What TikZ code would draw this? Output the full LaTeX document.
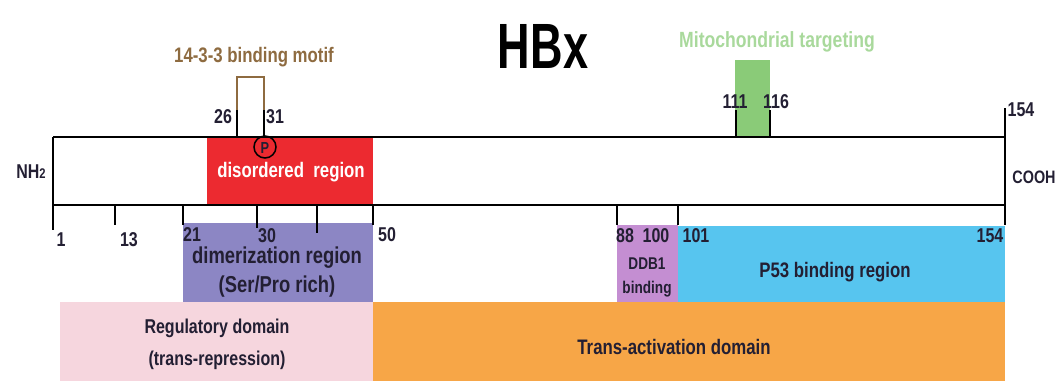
\documentclass[tikz,border=0pt]{standalone}
\usepackage{fontspec}
\setmainfont{Liberation Sans}[FakeStretch=0.8]
\usetikzlibrary{positioning}
\definecolor{discolor}{HTML}{EC2A30}
\definecolor{dimcolor}{HTML}{8C86C4}
\definecolor{regcolor}{HTML}{F6D6DE}
\definecolor{transcolor}{HTML}{F7A647}
\definecolor{ddbcolor}{HTML}{C48ED2}
\definecolor{p53color}{HTML}{57C5EF}
\definecolor{mitocolor}{HTML}{8ACB78}
\definecolor{mitotext}{HTML}{A9D99C}
\definecolor{motifcolor}{HTML}{8E6B40}
\definecolor{txtcolor}{HTML}{231F33}

\begin{document}
\begin{tikzpicture}[x=1pt,y=-1pt,
	lbl/.style={font=\bfseries\fontsize{20}{22}\selectfont, text=txtcolor, inner sep=0pt},
	tick/.style={line width=2.2pt, black}]
\useasboundingbox (0,0) rectangle (1056,381);

% colour boxes
\fill[dimcolor] (183,223) rectangle (373,302);
\fill[regcolor] (60,302) rectangle (373,381);
\fill[transcolor] (373,302) rectangle (1005,381);
\fill[ddbcolor] (617,225) rectangle (678,302);
\fill[p53color] (678,226) rectangle (1005,302);
\fill[discolor] (207,137) rectangle (373,205);
\fill[mitocolor] (735,60) rectangle (770,137);

% the protein bar
\draw[tick] (53,137) -- (1005,137);
\draw[tick] (53,205) -- (1005,205);
\draw[tick] (53,137) -- (53,230);
\draw[tick] (1005,108) -- (1005,225);
\foreach \x/\y in {115/225,183/225,257/228,317/233,373/225,617/225,678/225}{
	\draw[tick] (\x,205) -- (\x,\y);
}
\foreach \x in {237,264,736,770}{
	\draw[tick] (\x,137) -- (\x,110);
}

% 14-3-3 motif
\draw[motifcolor, line width=1.5pt] (237,110) -- (237,77) -- (264,77) -- (264,110);
\node[lbl, text=motifcolor, font=\bfseries\fontsize{21}{22}\selectfont] (motif) at (254,57) {14-3-3 binding motif};
\draw[line width=1.5pt] (265,147) circle (11);
\node[lbl, font=\bfseries\fontsize{16}{18}\selectfont] (phos) at (265,148) {P};

\node[font=\bfseries\fontsize{64}{70}\selectfont, xscale=0.88] (title) at (543,46) {HBx};
\node[lbl, text=mitotext, font=\bfseries\fontsize{22}{24}\selectfont] (mito) at (777,42) {Mitochondrial targeting};

% numbers
\node[lbl] (n26) at (223,117) {26};
\node[lbl] (n31) at (275,117) {31};
\node[lbl] (n111) at (735,102) {111};
\node[lbl] (n116) at (776,102) {116};
\node[lbl] (n154t) at (1021,110) {154};
\node[lbl] (n1) at (61,240) {1};
\node[lbl] (n13) at (129,240) {13};
\node[lbl] (n21) at (192,235) {21};
\node[lbl] (n30) at (267,236) {30};
\node[lbl] (n50) at (387,235) {50};
\node[lbl] (n88) at (625,236) {88};
\node[lbl] (n100) at (656,236) {100};
\node[lbl] (n101) at (696,236) {101};
\node[lbl] (n154) at (990,236) {154};

\node[lbl] (nh) at (31,172) {NH{\fontsize{14}{14}\selectfont 2}};
\node[lbl, font=\bfseries\fontsize{18}{20}\selectfont] (cooh) at (1034,177) {COOH};

% region names
\node[lbl, text=white, font=\bfseries\fontsize{21}{22}\selectfont] (dis) at (291,172) {disordered\ \ region};
\node[lbl, align=center, font=\bfseries\fontsize{23}{29}\selectfont] (dim) at (277,272) {dimerization region\\(Ser/Pro rich)};
\node[lbl, align=center, font=\bfseries\fontsize{17}{24}\selectfont] (ddb) at (647,277) {DDB1\\binding};
\node[lbl, font=\bfseries\fontsize{21}{22}\selectfont] (p53) at (835,272) {P53 binding region};
\node[lbl, align=center, font=\bfseries\fontsize{20}{32}\selectfont] (reg) at (217,344) {Regulatory domain\\(trans-repression)};
\node[lbl, font=\bfseries\fontsize{21}{22}\selectfont] (trans) at (674,347) {Trans-activation domain};
\end{tikzpicture}
\end{document}
